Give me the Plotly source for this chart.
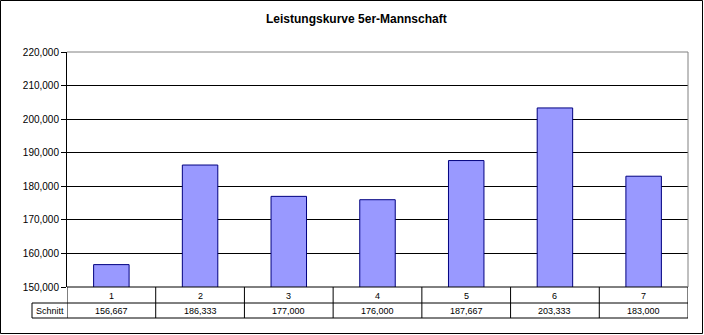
import plotly.graph_objects as go

# Kegel-Schnitt der 5er-Mannschaft je Spieltag
spieltage = ["1", "2", "3", "4", "5", "6", "7"]
schnitt = [156.667, 186.333, 177.000, 176.000, 187.667, 203.333, 183.000]
zeilen_label = "Schnitt"
titel = "Leistungskurve 5er-Mannschaft"

W, H = 704, 335
ML, MR, MT, MB = 67, 16, 52, 48
PW, PH = W - ML - MR, H - MT - MB
FONT = "Arial, Liberation Sans, sans-serif"


def py(p):
    """pixel row -> paper y"""
    return (H - MB - p) / PH


def px(p):
    """pixel column -> paper x"""
    return (p - ML) / PW


fig = go.Figure(go.Bar(
    x=spieltage, y=schnitt,
    marker=dict(color="#9999FF", line=dict(color="#000080", width=1)),
    hoverinfo="skip",
))

shapes = []
black = dict(color="black", width=1)

# Datentabelle unter der Achse
row1_bot = py(303)
row2_bot = py(318)
n = len(spieltage)
shapes.append(dict(type="line", xref="x", yref="paper", x0=-0.5, x1=n - 0.5,
                   y0=0, y1=0, line=black))
shapes.append(dict(type="line", xref="paper", yref="paper", x0=px(32), x1=1,
                   y0=row1_bot, y1=row1_bot, line=black))
shapes.append(dict(type="line", xref="paper", yref="paper", x0=px(32), x1=1,
                   y0=row2_bot, y1=row2_bot, line=black))
shapes.append(dict(type="line", xref="paper", yref="paper", x0=px(32), x1=px(32),
                   y0=row1_bot, y1=row2_bot, line=black))
for i in range(n + 1):
    shapes.append(dict(type="line", xref="x", yref="paper", x0=i - 0.5, x1=i - 0.5,
                       y0=0, y1=row2_bot, line=black))

# grauer Rahmen der Zeichnungsfläche (oben, rechts)
grey = dict(color="#808080", width=1)
shapes.append(dict(type="line", xref="paper", yref="paper", x0=0, x1=1,
                   y0=1, y1=1, line=grey, layer="above"))
shapes.append(dict(type="line", xref="paper", yref="paper", x0=1, x1=1,
                   y0=0, y1=1, line=grey, layer="above"))

# äußerer Diagrammrahmen
shapes.append(dict(type="rect", xref="paper", yref="paper",
                   x0=px(0.5), x1=px(702.5), y0=py(0.5), y1=py(333.5),
                   line=black, fillcolor="rgba(0,0,0,0)"))

annotations = []
tfont = dict(family=FONT, size=9, color="black")
for i, (s, v) in enumerate(zip(spieltage, schnitt)):
    # Kategorienachse: Position über den Index
    annotations.append(dict(x=i, y=py(295.5), xref="x", yref="paper",
                            text=s, showarrow=False, font=tfont,
                            xanchor="center", yanchor="middle"))
    annotations.append(dict(x=i, y=py(311), xref="x", yref="paper",
                            text=f"{v:.3f}".replace(".", ","), showarrow=False,
                            font=tfont, xanchor="center", yanchor="middle"))
annotations.append(dict(x=px(49.5), y=py(311), xref="paper", yref="paper",
                        text=zeilen_label, showarrow=False, font=tfont,
                        xanchor="center", yanchor="middle"))
annotations.append(dict(x=px(356), y=py(19), xref="paper", yref="paper",
                        text=f"<b>{titel}</b>", showarrow=False,
                        font=dict(family=FONT, size=12, color="black"),
                        xanchor="center", yanchor="middle"))

fig.update_layout(
    width=W, height=H,
    margin=dict(l=ML, r=MR, t=MT, b=MB, pad=0),
    paper_bgcolor="white", plot_bgcolor="white",
    separators=",.",
    bargap=0.6,
    showlegend=False,
    shapes=shapes,
    annotations=annotations,
    xaxis=dict(type="category", range=[-0.5, n - 0.5], showticklabels=False,
               ticks="", showgrid=False, showline=False, zeroline=False,
               fixedrange=True),
    yaxis=dict(range=[150, 220], dtick=10, tick0=150, tickformat=".3f",
               showgrid=True, gridcolor="black", gridwidth=1,
               showline=True, linecolor="black", linewidth=1,
               ticks="outside", ticklen=5, tickcolor="black", tickwidth=1,
               tickfont=dict(family=FONT, size=10, color="black"),
               zeroline=False, fixedrange=True),
)

fig.write_html("out.html", config={"displayModeBar": False})
